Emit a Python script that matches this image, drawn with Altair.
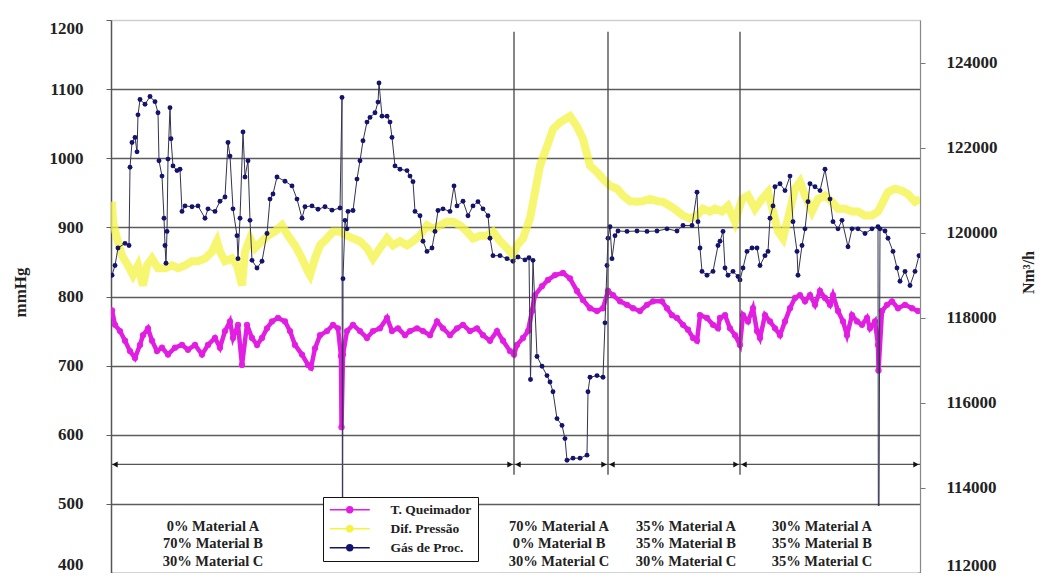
import altair as alt
import pandas as pd

# ---------------- data ----------------
# x = sample index along the run (no x labels in the original)
T_QUEIMADOR = [(1,780),(4,759),(9,750),(14,736),(19,721),(24,711),(29,730),(32,744),(37,754),(41,736),
    (46,721),(51,726),(57,716),(64,726),(71,730),(77,723),(84,730),(91,716),(97,730),(104,740),
    (109,726),(114,750),(119,764),(122,740),(127,759),(131,701),(136,759),(141,740),(146,730),(151,740),
    (156,754),(161,764),(167,769),(174,764),(179,750),(184,730),(191,716),(197,701),(200,697),(204,725),
    (209,744),(216,750),(222,759),(227,754),(230,714),(230.5,611),(232,716),(236,750),(242,759),(249,750),
    (256,740),(262,750),(269,754),(276,769),(281,750),(287,754),(294,744),(299,750),(306,754),(312,750),
    (319,744),(326,764),(332,754),(339,744),(346,754),(352,759),(359,750),(366,754),(372,744),(379,736),
    (386,750),(392,736),(399,721),(403,716),(406,730),(412,740),(417,750),(421,779),(424,802),(431,815),
    (437,824),(444,831),(452,834),(459,826),(466,808),(472,795),(479,783),(486,779),(492,783),(497,808),
    (502,802),(509,793),(516,788),(522,783),(529,779),(536,788),(542,793),(551,793),(556,783),(561,773),
    (566,769),(572,759),(577,752),(582,740),(586,736),(589,773),(596,769),(602,759),(607,754),(609,769),
    (614,773),(619,754),(624,744),(629,730),(632,773),(637,764),(642,783),(646,750),(649,740),(654,773),
    (659,764),(664,754),(669,744),(674,764),(679,783),(684,798),(689,802),(694,793),(699,802),(704,788),
    (709,808),(714,798),(719,788),(722,802),(727,779),(732,764),(736,744),(741,773),(746,764),(751,759),
    (756,769),(759,754),(764,764),(767,730),(767.5,693),(771,779),(776,788),(781,793),(787,783),(794,788),
    (801,783),(807,779)]

DIF_PRESSAO = [(1,937),(2,908),(6,884),(11,859),(17,845),(22,831),(27,845),(32,816),(36,845),(41,855),
    (47,841),(54,841),(61,845),(67,841),(74,845),(81,851),(87,851),(94,855),(101,865),(106,880),
    (109,865),(114,851),(121,855),(126,845),(131,816),(134,865),(139,884),(144,870),(151,880),(157,888),
    (164,894),(171,903),(177,888),(184,874),(191,855),(197,836),(199,831),(204,855),(209,874),(216,884),
    (222,894),(229,894),(236,888),(242,884),(249,880),(256,870),(262,855),(269,870),(276,884),(282,874),
    (289,880),(296,874),(302,880),(309,888),(316,903),(322,898),(329,903),(336,908),(342,908),(349,903),
    (356,894),(362,884),(369,888),(376,888),(382,894),(389,880),(396,870),(402,859),(406,874),(412,884),
    (419,913),(424,951),(429,989),(436,1017),(442,1042),(449,1052),(459,1061),(466,1046),(472,1028),(479,989),
    (486,980),(492,970),(499,960),(506,956),(512,946),(519,938),(526,937),(532,938),(539,941),(546,938),
    (552,937),(559,931),(566,924),(572,917),(579,913),(586,917),(592,927),(599,923),(604,927),(611,923),
    (617,931),(624,908),(631,941),(637,946),(644,927),(651,941),(657,951),(662,923),(667,894),(672,884),
    (677,913),(684,956),(689,966),(694,946),(701,923),(707,941),(714,946),(721,937),(727,927),(734,927),
    (741,923),(747,923),(754,917),(761,917),(767,923),(772,937),(777,951),(784,956),(791,953),(797,948),
    (804,937),(809,941)]

# Gas de processo, Nm3/h (right axis); two drop-outs fall below the axis
GAS_PROC = [(1,119000),(4,119230),(7,119640),(14,119750),(18,119700),(19,121540),(21,122120),(24,122240),
    (26,121900),(27,122770),(29,123130),(34,123020),(39,123200),(44,123080),(47,122820),(48,121690),
    (51,121330),(53,120340),(54,119700),(55,119280),(56,120030),(57,121730),(59,122940),(60,122210),
    (62,121570),(66,121460),(69,121490),(71,120500),(74,120630),(81,120610),(87,120630),(94,120340),
    (97,120560),(104,120500),(109,120740),(114,120840),(117,122120),(119,121800),(122,120560),(126,119930),
    (127,119390),(129,120340),(132,122370),(134,121310),(137,121690),(139,120290),(141,119350),(146,119170),
    (151,119330),(156,119980),(159,120790),(162,120910),(166,121310),(174,121210),(181,121100),(186,120790),
    (191,120340),(194,120610),(201,120630),(207,120550),(214,120610),(221,120530),(229,120580),(231,123180),
    (231.5,110000),(232,118920),(234,120290),(236,120090),(237,120500),(242,120520),(246,121260),(249,121690),
    (252,122160),(256,122600),(259,122710),(264,122820),(267,123070),(268,123520),(271,122740),(276,122740),
    (279,122600),(281,122240),(284,121570),(289,121490),(296,121460),(299,121330),(302,121200),(304,120500),
    (309,120400),(312,119800),(316,119560),(321,119640),(324,120030),(327,120520),(332,120560),(339,120500),
    (343,121100),(346,120630),(352,120740),(357,120400),(362,120630),(367,120730),(372,120560),(377,120400),
    (379,119870),(382,119460),(389,119460),(396,119390),(402,119330),(407,119430),(414,119360),(418,119410),
    (419.5,116550),(422,119350),(426,117090),(431,116860),(436,116640),(439,116490),(442,116260),(446,115630),
    (451,115470),(454,115160),(456,114650),(462,114700),(469,114700),(476,114770),(477,116260),(479,116600),
    (486,116640),(492,116600),(494,117880),(496,119230),(497,119870),(499,120140),(501,119390),(504,119930),
    (507,120040),(516,120030),(526,120040),(536,120030),(546,120040),(556,120090),(566,120040),(572,120170),
    (581,120170),(586,120950),(587,120260),(589,119640),(591,119090),(596,119000),(602,119090),(607,119700),
    (609,119800),(612,120030),(614,119170),(617,119000),(622,119090),(627,118970),(629,118890),(632,119170),
    (636,119560),(641,119640),(646,119640),(649,119230),(654,119460),(657,119560),(659,120340),(662,120630),
    (664,121080),(669,121150),(674,120990),(679,121330),(682,120260),(686,119560),(687,119000),(691,119700),
    (694,120090),(697,120730),(699,121150),(704,121080),(709,120990),(714,121490),(719,120790),(722,120260),
    (727,120090),(731,120290),(737,119670),(741,120090),(747,120090),(754,119980),(761,120090),(767,120140),
    (767.5,110000),(769,120090),(774,120040),(777,119870),(782,119560),(786,119170),(789,118860),(794,119090),
    (799,118760),(804,119090),(808,119460)]

SERIES = ["T. Queimador", "Dif. Pressão", "Gás de Proc."]
COLORS = ["#e21ee2", "#f3f340", "#14146e"]

X_RANGE = [0, 809]
SEGMENT_BOUNDS = [0, 403, 497, 629, 809]
SEPARATOR_TOP = 1183
SEPARATOR_BOTTOM = 542
ARROW_LEVEL = 557
SEGMENT_LABEL_X = [102, 448, 575, 711]
SEGMENT_LABELS = [
    ["0% Material A", "70% Material B", "30% Material C"],
    ["70% Material A", "0% Material B", "30% Material C"],
    ["35% Material A", "35% Material B", "30% Material C"],
    ["30% Material A", "35% Material B", "35% Material C"],
]
LABEL_ROW_Y = [467, 442, 416]
LEFT_TICKS = [400, 500, 600, 700, 800, 900, 1000, 1100, 1200]
RIGHT_TICKS = [112000, 114000, 116000, 118000, 120000, 122000, 124000]
LEFT_DOMAIN = [400, 1200]
RIGHT_DOMAIN = [112000, 125000]

# ---------------- tables ----------------
mag = pd.DataFrame(T_QUEIMADOR, columns=["t", "v"]); mag["serie"] = SERIES[0]
yel = pd.DataFrame(DIF_PRESSAO, columns=["t", "v"]); yel["serie"] = SERIES[1]
gas = pd.DataFrame(GAS_PROC, columns=["t", "v"])

sep_df = pd.DataFrame({"t": SEGMENT_BOUNDS[1:-1], "y1": SEPARATOR_TOP, "y2": SEPARATOR_BOTTOM})
arrow_line = pd.DataFrame({"t0": [SEGMENT_BOUNDS[0]], "t1": [SEGMENT_BOUNDS[-1]], "y": [ARROW_LEVEL]})
heads = []
for a, b in zip(SEGMENT_BOUNDS[:-1], SEGMENT_BOUNDS[1:]):
    heads.append({"t": a + 4, "dir": "left", "y": ARROW_LEVEL})
    heads.append({"t": b - 4, "dir": "right", "y": ARROW_LEVEL})
heads_df = pd.DataFrame(heads)
lab = []
for xs, rows in zip(SEGMENT_LABEL_X, SEGMENT_LABELS):
    for yy, txt in zip(LABEL_ROW_Y, rows):
        lab.append({"t": xs, "y": yy, "label": txt})
lab_df = pd.DataFrame(lab)

FONT = "Liberation Serif"
xscale = alt.Scale(domain=X_RANGE, nice=False, zero=False)
xaxis = alt.Axis(title=None, labels=False, ticks=False, grid=False, domain=True,
                 domainColor="#555555", domainWidth=1.5, zindex=1)
X = alt.X("t:Q", scale=xscale, axis=xaxis)
lscale = alt.Scale(domain=LEFT_DOMAIN, nice=False, zero=False)
rscale = alt.Scale(domain=RIGHT_DOMAIN, nice=False, zero=False)

left_axis = alt.Axis(
    values=LEFT_TICKS, format="d", title="mmHg", grid=True, labelFlush=True,
    gridColor={"condition": {"test": "datum.value === 1200", "value": "#cfcfcf"}, "value": "#5c5c5c"},
    gridWidth=1.4, domainColor="#555555", domainWidth=1.5, tickColor="#5c5c5c", tickSize=5,
    labelPadding=23, labelFont=FONT, labelFontSize=17, labelFontWeight="bold", labelColor="#222222",
    titleFont=FONT, titleFontSize=17, titleFontWeight="bold", titleColor="#222222",
    titleAngle=270, titleX=-91, titleY=272, titleAlign="center", titleBaseline="middle")
right_axis = alt.Axis(
    orient="right", values=RIGHT_TICKS, format="d", title="Nm³/h", grid=False,
    labelOffset={"condition": {"test": "datum.value === 112000", "value": -8}, "value": 0},
    domainColor="#888888", domainWidth=1.2, tickColor="#777777", tickSize=5,
    labelPadding=21, labelFont=FONT, labelFontSize=17, labelFontWeight="bold", labelColor="#222222",
    titleFont=FONT, titleFontSize=16, titleFontWeight="bold", titleColor="#222222",
    titleAngle=270, titleX=108, titleY=252, titleAlign="center", titleBaseline="middle")

LEGEND_SYMBOL = "M-4,0H4M-0.6,0A0.6,0.6,0,1,0,0.6,0A0.6,0.6,0,1,0,-0.6,0Z"
legend = alt.Legend(
    title=None, orient="none", legendX=212, legendY=477, symbolType=LEGEND_SYMBOL, symbolSize=100,
    symbolOffset=14, labelOffset=34, labelFont=FONT, labelFontSize=13.5, labelFontWeight="bold",
    labelColor="#222222", strokeColor="#111111", fillColor="white", padding=6, rowPadding=4,
    symbolStrokeWidth=1.4, symbolOpacity=1)
color = alt.Color("serie:N", scale=alt.Scale(domain=SERIES, range=COLORS), legend=legend)

yellow_layer = alt.Chart(yel).mark_line(strokeWidth=8, opacity=0.75, clip=True).encode(
    x=X, y=alt.Y("v:Q", scale=lscale, axis=left_axis), color=color)

mag_base = alt.Chart(mag).encode(x=X, y=alt.Y("v:Q", scale=lscale, axis=None), color=color)
magenta_layer = alt.layer(
    mag_base.mark_line(strokeWidth=4.5, clip=True),
    mag_base.mark_point(filled=True, size=40, opacity=0.95, clip=True),
)

gas_base = alt.Chart(gas).encode(x=X)
blue_layer = alt.layer(
    gas_base.mark_line(color="#33334f", strokeWidth=1, clip=True).encode(
        y=alt.Y("v:Q", scale=rscale, axis=right_axis)),
    gas_base.mark_point(filled=True, size=24, opacity=1, color=COLORS[2], clip=True).encode(
        y=alt.Y("v:Q", scale=rscale, axis=right_axis)),
)

Yl = lambda f: alt.Y(f, scale=lscale, axis=None)
overlay = alt.layer(
    alt.Chart(sep_df).mark_rule(color="#444444", strokeWidth=1.3).encode(
        x=X, y=Yl("y1:Q"), y2="y2:Q"),
    alt.Chart(arrow_line).mark_rule(color="#555555", strokeWidth=1.3).encode(
        x=alt.X("t0:Q", scale=xscale, axis=xaxis), x2="t1:Q", y=Yl("y:Q")),
    alt.Chart(heads_df).mark_point(filled=True, size=38, color="#111111", opacity=1).encode(
        x=X, y=Yl("y:Q"),
        shape=alt.Shape("dir:N", scale=alt.Scale(domain=["left", "right"],
                        range=["triangle-left", "triangle-right"]), legend=None)),
    alt.Chart(lab_df).mark_rect(color="white").encode(
        x=alt.value(2), x2=alt.value(807), y=alt.Y(datum=497, scale=lscale, axis=None),
        y2=alt.Y2(datum=400.8)),
    alt.Chart(lab_df).mark_text(font=FONT, fontSize=14.5, fontWeight="bold", color="#222222").encode(
        x=X, y=Yl("y:Q"), text="label:N"),
)

chart = alt.layer(yellow_layer, magenta_layer, blue_layer, overlay).resolve_scale(
    y="independent"
).properties(
    width=809, height=553,
    autosize=alt.AutoSizeParams(type="none"),
    padding={"left": 103, "top": 12, "right": 117, "bottom": 0},
).configure_view(stroke=None).configure(font=FONT, background="white")

chart.save("out.html", embed_options={"renderer": "svg", "actions": False})
